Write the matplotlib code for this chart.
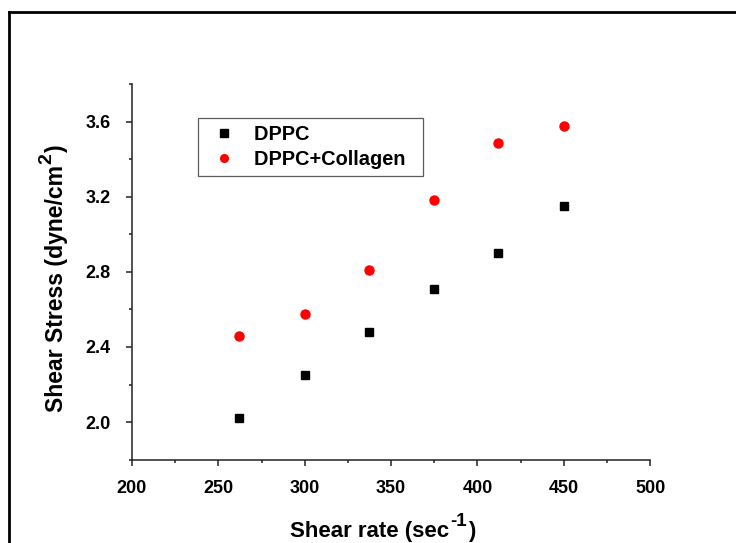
import matplotlib

matplotlib.use("Agg")
import matplotlib.pyplot as plt  # noqa: E402
from matplotlib.lines import Line2D  # noqa: E402
from matplotlib.ticker import MultipleLocator  # noqa: E402

# shear rate (1/s) and measured shear stress (dyne/cm^2)
shear_rate = [262, 300, 337, 375, 412, 450]
stress_dppc = [2.02, 2.25, 2.48, 2.71, 2.90, 3.15]
stress_collagen = [2.46, 2.575, 2.81, 3.18, 3.485, 3.575]

x_ticks = [200, 250, 300, 350, 400, 450, 500]
y_ticks = [2.0, 2.4, 2.8, 3.2, 3.6]

plt.rcParams["font.family"] = ["Liberation Sans", "DejaVu Sans"]
plt.rcParams["font.weight"] = "bold"

W, H = 736, 543
fig = plt.figure(figsize=(W / 100, H / 100), dpi=100)
ax = fig.add_axes([0.1793, 0.1534, 0.704, 0.6919])

ax.plot(shear_rate, stress_dppc, ls="none", marker="s", ms=6.3,
        color="black", label="DPPC")
ax.plot(shear_rate, stress_collagen, ls="none", marker="o", ms=6.5,
        color="#ff0000", mec="#ff0000", label="DPPC+Collagen")

ax.set_xlim(200, 500)
ax.set_ylim(1.8, 3.8)
ax.set_xticks(x_ticks)
ax.set_xticklabels([str(v) for v in x_ticks], fontweight="bold", fontsize=13)
ax.set_yticks(y_ticks)
ax.set_yticklabels([f"{v:.1f}" for v in y_ticks], fontweight="bold", fontsize=13)
ax.xaxis.set_minor_locator(MultipleLocator(25))
ax.yaxis.set_minor_locator(MultipleLocator(0.2))

for side in ("top", "right"):
    ax.spines[side].set_visible(False)
for side in ("left", "bottom"):
    ax.spines[side].set_linewidth(1.1)
    ax.spines[side].set_color("#222222")

ax.tick_params(which="major", direction="out", length=4.5, width=1.1,
               color="#222222")
ax.tick_params(which="minor", direction="out", length=2.5, width=1.1,
               color="#222222")
ax.tick_params(axis="x", which="major", pad=10)
ax.tick_params(axis="y", which="major", pad=11)

leg = ax.legend(loc="upper left", bbox_to_anchor=(0.127, 0.909), borderaxespad=0,
                frameon=True, fancybox=False, handlelength=1.9,
                handletextpad=0.55, borderpad=0.35, labelspacing=0.28,
                prop={"weight": "bold", "size": 14.4}, markerscale=0.85)
leg.get_frame().set_edgecolor("#333333")
leg.get_frame().set_linewidth(0.9)
# widen the box on the right like the original
for t in leg.get_texts():
    t.set_text(t.get_text() + "  ")

# axis titles with full-size superscripts, laid out piece by piece (pixels)
fig.canvas.draw()
rend = fig.canvas.get_renderer()
kw = dict(fontweight="bold", transform=None, rotation_mode="anchor",
          ha="left", va="baseline")

xb = fig.text(290, H - 537, "Shear rate (sec", fontsize=16, **kw)
bb = xb.get_window_extent(rend)
xs = fig.text(bb.x1 + 1, H - 526, "-1", fontsize=13.5, **kw)
bs = xs.get_window_extent(rend)
fig.text(bs.x1 + 1, H - 537, ")", fontsize=16, **kw)

yb = fig.text(63, H - 412, "Shear Stress (dyne/cm", fontsize=16.6, rotation=90, **kw)
bb = yb.get_window_extent(rend)
ys = fig.text(51, bb.y1 + 1, "2", fontsize=14, rotation=90, **kw)
bs = ys.get_window_extent(rend)
fig.text(63, bs.y1 + 1, ")", fontsize=16.6, rotation=90, **kw)

# outer frame around the figure (only left and top edges visible)
fig.add_artist(Line2D([9 / W, 9 / W], [0, 1 - 12 / H],
                      transform=fig.transFigure, color="black", lw=2))
fig.add_artist(Line2D([9 / W, 1], [1 - 12 / H, 1 - 12 / H],
                      transform=fig.transFigure, color="black", lw=2))

fig.savefig("out.png", dpi=100, facecolor="white")
